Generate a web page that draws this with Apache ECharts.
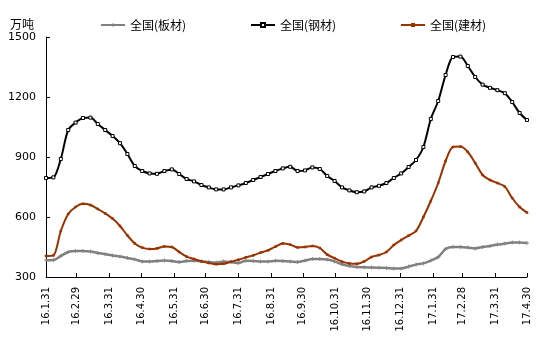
<!DOCTYPE html>
<html><head><meta charset="utf-8">
<script src="https://cdn.jsdelivr.net/npm/echarts@6/dist/echarts.min.js"></script>
<style>html,body{margin:0;padding:0;background:#fff}#c{width:549px;height:351px}</style>
</head><body><div id="c"></div>
<script>
// weekly observations starting 2016-01-31
var startDate = [2016, 0, 31];
var tickLabels = ['16.1.31','16.2.29','16.3.31','16.4.30','16.5.31','16.6.30','16.7.31','16.8.31','16.9.30','16.10.31','16.11.30','16.12.31','17.1.31','17.2.28','17.3.31','17.4.30'];
var seriesNames = ['全国(板材)','全国(钢材)','全国(建材)'];
var plate = [384,385,405,425,430,430,428,420,414,408,402,395,388,378,377,380,382,380,375,380,381,379,375,372,378,375,370,381,380,378,377,381,380,378,375,382,390,390,387,378,364,355,350,349,347,346,345,343,343,352,362,368,382,400,440,450,450,447,443,450,455,462,467,472,472,470];
var steel = [795,798,890,1035,1072,1095,1097,1065,1035,1005,969,915,855,830,818,816,830,838,815,790,778,760,748,738,738,748,758,770,785,800,815,830,843,851,830,833,848,840,805,780,748,733,724,728,748,756,770,795,818,850,885,950,1090,1180,1310,1400,1402,1355,1300,1262,1246,1234,1219,1175,1120,1085];
var build = [405,408,530,615,650,666,660,640,618,592,555,508,468,447,440,443,453,450,425,402,390,378,370,364,366,376,386,398,408,422,433,452,468,462,448,450,455,445,412,394,377,368,366,378,400,410,425,460,485,507,530,600,680,770,880,950,952,925,870,810,785,770,752,695,650,622];
var yMin = 300, yMax = 1500, yStep = 300;

var DAY = 86400000;
var t0 = Date.UTC(startDate[0], startDate[1], startDate[2]);
function labelDay(s){ var p = s.split('.'); return Math.round((Date.UTC(2000 + (+p[0]), (+p[1]) - 1, +p[2]) - t0) / DAY); }
function pairs(arr){ return arr.map(function(v,k){ return [7*k, v]; }); }
var tickDays = tickLabels.map(labelDay);

var chart = echarts.init(document.getElementById('c'), null, {renderer:'canvas'});
var cjk = '"Noto Sans CJK SC", sans-serif';
var legendText = {fontFamily:cjk, fontSize:12, color:'#000'};
chart.setOption({
  animation:false,
  backgroundColor:'#fff',
  title:{text:'万吨', left:5, top:13, textStyle:{fontFamily:cjk, fontSize:12, fontWeight:'normal', color:'#000'}},
  legend:[
    {data:[seriesNames[0]], left:95, top:14, itemWidth:24, itemHeight:5, itemGap:4, textStyle:legendText},
    {data:[seriesNames[1]], left:245, top:14, itemWidth:24, itemHeight:5, itemGap:4, textStyle:legendText},
    {data:[seriesNames[2]], left:395, top:14, itemWidth:24, itemHeight:5, itemGap:4, textStyle:legendText}
  ],
  grid:{left:46, right:22, top:37, bottom:74, containLabel:false},
  xAxis:{
    type:'value',
    min: tickDays[0], max: tickDays[tickDays.length-1],
    axisLine:{lineStyle:{color:'#000', width:1}},
    axisTick:{inside:true, length:4, lineStyle:{color:'#000'}, customValues: tickDays},
    axisLabel:{customValues: tickDays, rotate:90, margin:10, color:'#000', fontFamily:'DejaVu Sans', fontSize:10,
      formatter:function(v){ var i = tickDays.indexOf(Math.round(v)); return i >= 0 ? tickLabels[i] : ''; }},
    splitLine:{show:false}
  },
  yAxis:{
    type:'value', min:yMin, max:yMax, interval:yStep,
    axisLine:{show:true, lineStyle:{color:'#000', width:1}},
    axisTick:{show:true, inside:true, length:4, lineStyle:{color:'#000'}},
    axisLabel:{color:'#000', fontFamily:'DejaVu Sans', fontSize:11, margin:10, formatter:function(v){ return String(v); }},
    splitLine:{show:false}
  },
  series:[
    {name:seriesNames[0], type:'line', data:pairs(plate), smooth:0.3, symbol:'path://M2,0h1v2h2v1h-2v2h-1v-2h-2v-1h2z', symbolSize:4,
      lineStyle:{color:'#808080', width:2.5}, itemStyle:{color:'#808080'}, z:2},
    {name:seriesNames[1], type:'line', data:pairs(steel), smooth:0.3, symbol:'rect', symbolSize:3,
      lineStyle:{color:'#000', width:2}, itemStyle:{color:'#fff', borderColor:'#000', borderWidth:1}, z:4},
    {name:seriesNames[2], type:'line', data:pairs(build), smooth:0.3, symbol:'rect', symbolSize:2.5,
      lineStyle:{color:'#993300', width:2}, itemStyle:{color:'#993300'}, z:3}
  ]
});
</script></body></html>
